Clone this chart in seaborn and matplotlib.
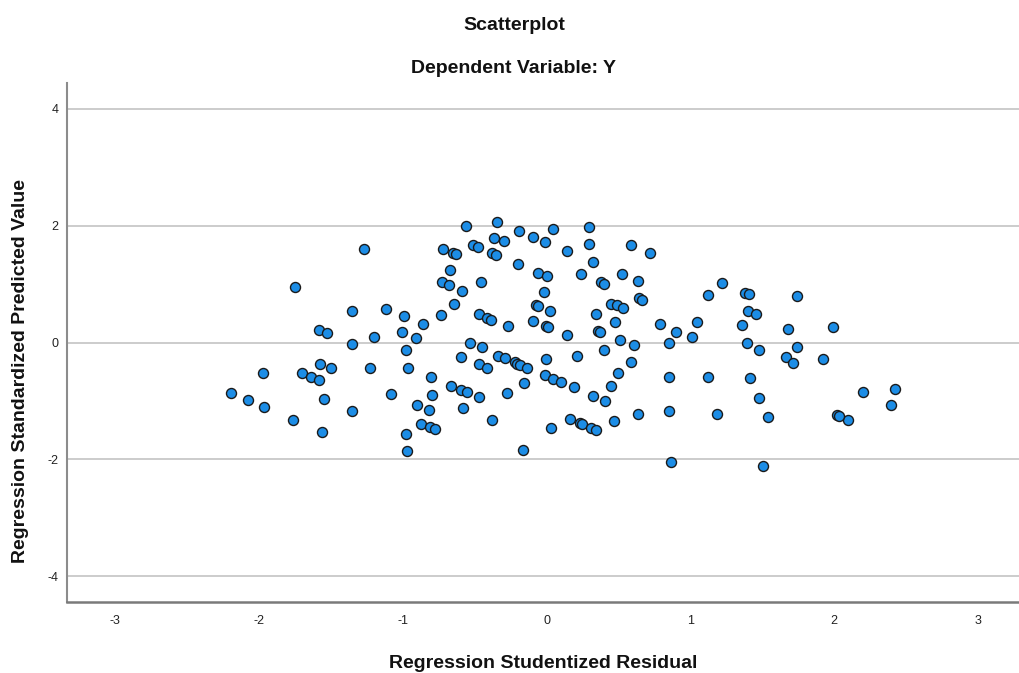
import matplotlib
matplotlib.use("Agg")
import matplotlib.pyplot as plt
import seaborn as sns
import pandas as pd

# Regression Studentized Residual (x) and Regression Standardized Predicted Value (y)
residual = [
    -1.271, -0.718, -1.747, -1.353, -1.118, -0.991, -0.736, -1.584, -1.528, -0.859,
    -1.003, -1.202, -0.905, -1.353, -0.671, -0.725, -0.678, -0.558, -0.346, -0.193,
    0.047, 0.296, -0.096, -0.010, -0.365, -0.296, -0.509, -0.474, -0.647, -0.629,
    -0.377, -0.353, 0.140, 0.293, 0.588, 0.722, -0.200, 0.323, -0.586, -0.455,
    -0.057, 0.001, 0.242, 0.379, 0.398, 0.523, 0.638, -0.017, -0.645, -0.469,
    -0.416, -0.386, -0.270, -0.092, -0.075, -0.057, 0.022, -0.003, 0.008, 0.143,
    0.342, 0.356, 0.374, 0.451, 0.488, 0.534, 0.478, 0.645, 0.662, 0.789,
    0.901, 0.513, 0.606, 0.853, -0.530, -0.451, 1.220, 1.125, 1.380, 1.408,
    1.742, 1.403, 1.455, 1.047, 1.357, 1.682, 1.992, 1.014, 1.392, 1.743,
    -0.979, -1.971, -1.700, -1.636, -1.580, -1.575, -1.499, -1.227, -0.961, -0.801,
    -0.664, -2.194, -2.074, -1.967, -1.545, -1.081, -0.796, -1.765, -1.353, -0.898,
    -0.819, -1.563, -0.871, -0.810, -0.775, -0.977, -0.968, -0.595, -0.339, -0.289,
    -0.221, -0.203, -0.184, -0.134, -0.469, -0.412, -0.006, 0.210, 0.400, 0.588,
    0.497, 0.446, 0.409, 0.323, 0.191, -0.013, 0.043, 0.099, -0.156, -0.275,
    -0.597, -0.555, -0.467, -0.581, -0.379, 0.033, 0.166, 0.231, 0.249, 0.309,
    0.344, 0.469, 0.636, 0.850, 0.850, -0.163, 0.869, 1.480, 1.668, 1.716,
    1.921, 1.125, 1.413, 1.478, 2.203, 2.421, 2.398, 1.184, 1.538, 2.022,
    2.095, 1.503, 2.033,
]
predicted = [
    1.596, 1.596, 0.950, 0.539, 0.579, 0.454, 0.476, 0.219, 0.168, 0.317,
    0.180, 0.094, 0.077, -0.022, 1.241, 1.031, 0.981, 1.990, 2.068, 1.909,
    1.943, 1.973, 1.801, 1.716, 1.795, 1.733, 1.664, 1.630, 1.533, 1.507,
    1.527, 1.498, 1.562, 1.692, 1.670, 1.527, 1.339, 1.378, 0.887, 1.036,
    1.195, 1.139, 1.168, 1.031, 1.002, 1.168, 1.048, 0.865, 0.664, 0.488,
    0.425, 0.390, 0.277, 0.373, 0.647, 0.620, 0.539, 0.274, 0.265, 0.128,
    0.493, 0.202, 0.185, 0.664, 0.637, 0.586, 0.351, 0.757, 0.728, 0.322,
    0.185, 0.038, -0.039, -0.012, -0.009, -0.077, 1.014, 0.818, 0.842, 0.825,
    0.791, 0.539, 0.493, 0.351, 0.305, 0.236, 0.265, 0.086, 0.000, -0.072,
    -0.128, -0.522, -0.517, -0.586, -0.647, -0.363, -0.442, -0.442, -0.432, -0.596,
    -0.745, -0.870, -0.990, -1.099, -0.967, -0.887, -0.899, -1.322, -1.173, -1.070,
    -1.151, -1.533, -1.390, -1.447, -1.486, -1.562, -1.863, -0.248, -0.226, -0.271,
    -0.339, -0.363, -0.380, -0.437, -0.373, -0.432, -0.277, -0.226, -0.134, -0.329,
    -0.517, -0.750, -0.997, -0.911, -0.767, -0.562, -0.620, -0.676, -0.699, -0.865,
    -0.808, -0.853, -0.938, -1.116, -1.322, -1.464, -1.315, -1.384, -1.401, -1.464,
    -1.503, -1.349, -1.229, -0.596, -1.170, -1.836, -2.041, -0.123, -0.253, -0.356,
    -0.277, -0.596, -0.608, -0.955, -0.842, -0.801, -1.065, -1.229, -1.281, -1.241,
    -1.322, -2.120, -1.253,
]
x_ticks = [-3, -2, -1, 0, 1, 2, 3]
y_ticks = [-4, -2, 0, 2, 4]

df = pd.DataFrame({"resid": residual, "pred": predicted})

sns.set_style("white")
plt.rcParams["font.family"] = ["Liberation Sans", "DejaVu Sans"]
plt.rcParams["axes.unicode_minus"] = False

fig = plt.figure(figsize=(10.2, 6.73), dpi=100)
ax = fig.add_axes([67 / 1020, 71 / 673, 953 / 1020, 519 / 673])

for yt in y_ticks:
    ax.axhline(yt, color="#c8c8c8", linewidth=1.3, zorder=0)

sns.scatterplot(data=df, x="resid", y="pred", ax=ax, s=52, color="#1c8de6",
                edgecolor="#1a1a1a", linewidth=1.0, zorder=3, legend=False)

ax.set_xlim(-3.335, 3.293)
ax.set_ylim(-4.443, 4.443)
ax.set_xticks(x_ticks)
ax.set_yticks(y_ticks)
ax.set_xticklabels([str(t) for t in x_ticks])
ax.set_yticklabels([str(t) for t in y_ticks])
ax.tick_params(axis="both", length=0, labelsize=9, colors="#222222")
ax.tick_params(axis="y", pad=6)
ax.tick_params(axis="x", pad=9)

for side in ["top", "right"]:
    ax.spines[side].set_visible(False)
ax.spines["left"].set_color("#8c8c8c")
ax.spines["left"].set_linewidth(1.5)
ax.spines["bottom"].set_color("#7a7a7a")
ax.spines["bottom"].set_linewidth(1.8)

ax.set_xlabel("Regression Studentized Residual", fontsize=14, fontweight="bold", color="#111111")
ax.set_ylabel("Regression Standardized Predicted Value", fontsize=14, fontweight="bold", color="#111111")
ax.xaxis.set_label_coords(0.5, -0.103)
ax.yaxis.set_label_coords(-0.040, 0.445)

fig.text(514 / 1020, 1 - 30 / 673, "Scatterplot", ha="center", va="baseline",
         fontsize=14, fontweight="bold", color="#111111")
fig.text(514 / 1020, 1 - 73 / 673, "Dependent Variable: Y", ha="center", va="baseline",
         fontsize=14, fontweight="bold", color="#111111")

fig.savefig("out.png", dpi=100)
